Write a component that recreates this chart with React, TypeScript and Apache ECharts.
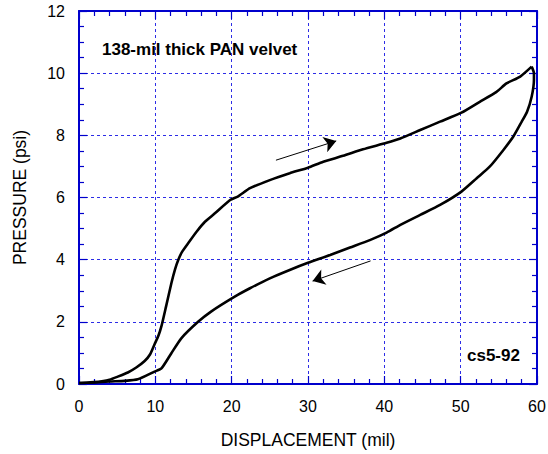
import React, { useEffect, useRef } from "react";
import * as echarts from "echarts";

// Loading curve (displacement mil, pressure psi)
const loadX = [0, 1, 2, 3, 4, 5, 6.4, 7.5, 8.6, 9.3, 9.9, 10.4, 10.8, 11.4, 12.1, 12.6, 13.0, 13.5, 14.3, 15.4, 16.5, 17.8, 19.8, 20.8, 22.4, 25.0, 27.6, 30.0, 32.0, 34.6, 37.2, 40.3, 42.1, 44.7, 47.3, 50.1, 52.5, 54.7, 56.0, 57.8, 59.3];
const loadY = [0.03, 0.04, 0.06, 0.09, 0.14, 0.23, 0.37, 0.53, 0.74, 0.95, 1.28, 1.55, 1.86, 2.49, 3.24, 3.7, 3.99, 4.25, 4.53, 4.9, 5.22, 5.49, 5.92, 6.03, 6.3, 6.56, 6.78, 6.96, 7.15, 7.34, 7.55, 7.76, 7.9, 8.17, 8.44, 8.73, 9.08, 9.4, 9.67, 9.89, 10.21];

// Unloading curve
const unloadX = [59.3, 59.6, 59.6, 59.3, 58.7, 58.0, 56.9, 55.6, 53.8, 52.1, 50.1, 47.3, 44.7, 42.1, 40.3, 38.1, 35.5, 32.9, 30.0, 27.6, 25.0, 22.4, 20.4, 17.3, 15.6, 13.4, 12.1, 10.8, 9.9, 7.7, 6, 4, 2, 0];
const unloadY = [10.21, 10.0, 9.78, 9.24, 8.76, 8.44, 7.96, 7.53, 6.99, 6.62, 6.19, 5.76, 5.44, 5.12, 4.87, 4.63, 4.39, 4.15, 3.9, 3.67, 3.4, 3.08, 2.81, 2.33, 2.0, 1.47, 0.99, 0.5, 0.4, 0.15, 0.1, 0.08, 0.05, 0.03];

// Direction arrows: [fromX, fromY, toX, toY]
const arrowUp = [25.8, 7.2, 33.7, 7.82];
const arrowDown = [38.2, 3.96, 30.6, 3.31];

const xTicks = { min: 0, max: 60, interval: 10 };
const yTicks = { min: 0, max: 12, interval: 2 };

const titleText = "138-mil thick PAN velvet";
const idText = "cs5-92";
const xName = "DISPLACEMENT (mil)";
const yName = "PRESSURE (psi)";

const zip = (xs: number[], ys: number[]) => xs.map((x, i) => [x, ys[i]]);

const FONT = "'Liberation Sans', Arial, sans-serif";
const AXIS_BLUE = "#0000cc";
const GRID_BLUE = "#2d2de6";

export default function App() {
  const ref = useRef<HTMLDivElement>(null);
  useEffect(() => {
    document.body.style.margin = "0";
    const chart = echarts.init(ref.current!, null, { renderer: "svg" });
    const baseAxis = {
      axisLine: { show: true, onZero: false, lineStyle: { color: AXIS_BLUE, width: 2 } },
      axisTick: { show: true, inside: true, length: 8, lineStyle: { color: AXIS_BLUE, width: 1.2 } },
      minorTick: { show: true, length: 5, lineStyle: { color: AXIS_BLUE, width: 1.2 } },
    };
    chart.setOption({
      animation: false,
      backgroundColor: "#ffffff",
      grid: { left: 79, right: 11, top: 11, bottom: 70, outerBoundsMode: "none" },
      xAxis: [
        {
          type: "value",
          ...xTicks,
          ...baseAxis,
          minorTick: { ...baseAxis.minorTick, splitNumber: 5 },
          position: "bottom",
          name: xName,
          nameLocation: "middle",
          nameGap: 47,
          nameTextStyle: { fontFamily: FONT, fontSize: 17.5, color: "#000" },
          axisLabel: { margin: 14, fontFamily: FONT, fontSize: 16, color: "#000" },
          splitLine: { show: true, lineStyle: { color: GRID_BLUE, type: [3, 3], width: 1 } },
        },
        {
          type: "value",
          ...xTicks,
          ...baseAxis,
          minorTick: { ...baseAxis.minorTick, splitNumber: 5 },
          position: "top",
          axisLabel: { show: false },
          splitLine: { show: false },
        },
      ],
      yAxis: [
        {
          type: "value",
          ...yTicks,
          ...baseAxis,
          minorTick: { ...baseAxis.minorTick, splitNumber: 4 },
          position: "left",
          name: yName,
          nameLocation: "middle",
          nameGap: 50,
          nameTextStyle: { fontFamily: FONT, fontSize: 17.5, color: "#000" },
          axisLabel: { margin: 14, fontFamily: FONT, fontSize: 16, color: "#000" },
          splitLine: { show: true, lineStyle: { color: GRID_BLUE, type: [3, 3], width: 1 } },
        },
        {
          type: "value",
          ...yTicks,
          ...baseAxis,
          minorTick: { ...baseAxis.minorTick, splitNumber: 4 },
          position: "right",
          axisLabel: { show: false },
          splitLine: { show: false },
        },
      ],
      series: [
        {
          name: "loading",
          type: "line",
          data: zip(loadX, loadY),
          showSymbol: false,
          smooth: 0.2,
          lineStyle: { color: "#000", width: 2.6 },
          z: 5,
        },
        {
          name: "unloading",
          type: "line",
          data: zip(unloadX, unloadY),
          showSymbol: false,
          smooth: 0.2,
          lineStyle: { color: "#000", width: 2.6 },
          z: 5,
        },
        {
          name: "arrows",
          type: "lines",
          coordinateSystem: "cartesian2d",
          symbol: ["none", "arrow"],
          symbolSize: [7, 12],
          lineStyle: { color: "#000", width: 1, opacity: 1 },
          data: [
            { coords: [[arrowUp[0], arrowUp[1]], [arrowUp[2], arrowUp[3]]] },
            { coords: [[arrowDown[0], arrowDown[1]], [arrowDown[2], arrowDown[3]]] },
          ],
          z: 6,
        },
      ],
      graphic: [
        {
          type: "text",
          left: 102,
          top: 41,
          style: { text: titleText, font: `bold 17px ${FONT}`, fill: "#000" },
        },
        {
          type: "text",
          left: 467,
          top: 347,
          style: { text: idText, font: `bold 17px ${FONT}`, fill: "#000" },
        },
      ],
    });
    return () => chart.dispose();
  }, []);
  return <div ref={ref} style={{ width: 548, height: 454, position: "absolute", left: 0, top: 0 }} />;
}
